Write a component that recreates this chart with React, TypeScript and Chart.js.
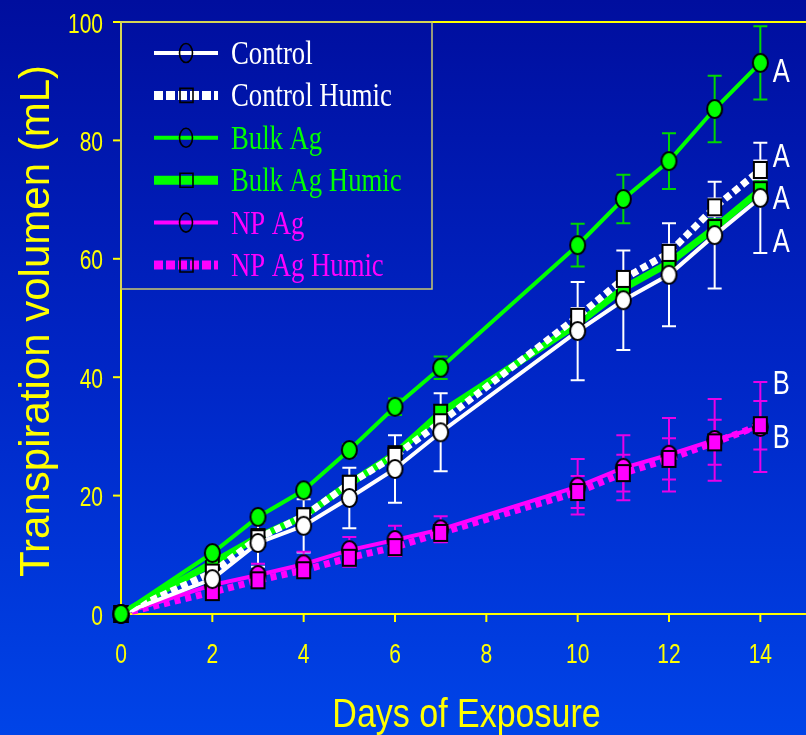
import React, { useEffect, useRef } from "react";
import { Chart, registerables } from "chart.js";

Chart.register(...registerables);

// ---------- data ----------
const days = [0, 2, 3, 4, 5, 6, 7, 10, 11, 12, 13, 14];
const control = [0, 5.9, 12.0, 14.9, 19.6, 24.5, 30.7, 47.8, 53.0, 57.3, 64.0, 70.3];
const controlErr = [0, 1.9, 4.0, 4.5, 5.1, 5.7, 6.6, 8.3, 8.4, 8.7, 9.0, 9.3];
const controlHumic = [0, 7.0, 12.8, 16.5, 22.0, 26.7, 32.4, 50.2, 56.6, 61.0, 68.7, 75.0];
const controlHumicErr = [0, 0.8, 1.0, 1.2, 1.0, 1.5, 1.5, 1.5, 1.3, 1.4, 1.5, 1.6];
const bulkAg = [0, 10.3, 16.4, 20.9, 27.7, 35.0, 41.6, 62.3, 70.1, 76.5, 85.3, 93.1];
const bulkAgErr = [0, 0.6, 1.0, 0.8, 1.0, 1.4, 1.9, 3.6, 4.1, 4.7, 5.6, 6.2];
const bulkAgHumic = [0, 8.6, 13.0, 16.5, 22.0, 27.0, 34.0, 49.0, 55.0, 59.3, 65.2, 71.6];
const bulkAgHumicErr = [0, 0.8, 0.8, 1.0, 1.0, 1.0, 1.0, 1.2, 1.2, 1.5, 1.5, 1.5];
const npAg = [0, 4.9, 6.6, 8.4, 10.8, 12.5, 14.3, 21.5, 24.7, 26.9, 29.4, 31.6];
const npAgErr = [0, 1.0, 1.9, 2.1, 2.2, 2.4, 2.2, 4.7, 5.5, 6.2, 6.9, 7.6];
const npAgHumic = [0, 3.7, 5.7, 7.4, 9.5, 11.3, 13.7, 20.6, 23.8, 26.2, 29.0, 31.9];
const npAgHumicErr = [0, 0.8, 1.2, 1.3, 1.5, 1.5, 1.5, 2.7, 3.1, 3.5, 3.8, 4.1];

const seriesNames = ["Control", "Control Humic", "Bulk Ag", "Bulk Ag Humic", "NP Ag", "NP Ag Humic"];
const xTicks = [0, 2, 4, 6, 8, 10, 12, 14];
const yTicks = [0, 20, 40, 60, 80, 100];
const letterLabels = ["A", "A", "A", "A", "B", "B"];
const letterValues = [91.9, 77.5, 70.4, 63.2, 39.2, 30.1];
const xTitle = "Days of Exposure";
const yTitle = "Transpiration volumen (mL)";

// ---------- styles ----------
const WHITE = "#ffffff";
const GREEN = "#00ff00";
const MAGENTA = "#ff00ff";
const YELLOW = "#ffff00";
const SANS = "'Liberation Sans', Arial, sans-serif";
const SERIF = "'Liberation Serif', 'Times New Roman', serif";

function makeMarker(shape: "circle" | "square", fill: string): HTMLCanvasElement {
  const c = document.createElement("canvas");
  const w = shape === "circle" ? 15 : 13;
  const h = shape === "circle" ? 18 : 16;
  c.width = w + 4;
  c.height = h + 4;
  const ctx = c.getContext("2d")!;
  ctx.fillStyle = fill;
  ctx.strokeStyle = "#000";
  ctx.lineWidth = 2;
  ctx.beginPath();
  if (shape === "circle") {
    ctx.ellipse(c.width / 2, c.height / 2, w / 2, h / 2, 0, 0, Math.PI * 2);
  } else {
    ctx.rect(2, 2, w, h);
  }
  ctx.fill();
  ctx.stroke();
  return c;
}

function stretchedText(
  ctx: CanvasRenderingContext2D,
  text: string,
  x: number,
  y: number,
  font: string,
  color: string,
  align: CanvasTextAlign,
  sy: number
) {
  ctx.save();
  ctx.translate(x, y);
  ctx.scale(1, sy);
  ctx.font = font;
  ctx.fillStyle = color;
  ctx.textAlign = align;
  ctx.textBaseline = "alphabetic";
  ctx.fillText(text, 0, 0);
  ctx.restore();
}

export default function App() {
  const ref = useRef<HTMLCanvasElement>(null);

  useEffect(() => {
    document.body.style.margin = "0";
    const canvas = ref.current!;

    const mk = (vals: number[]) => days.map((d, i) => ({ x: d, y: vals[i] }));

    const errorSets = [
      { vals: control, errs: controlErr, color: "#ffffff" },
      { vals: controlHumic, errs: controlHumicErr, color: "#e6e6ff" },
      { vals: bulkAg, errs: bulkAgErr, color: "#00d800" },
      { vals: bulkAgHumic, errs: bulkAgHumicErr, color: "#00d800" },
      { vals: npAg, errs: npAgErr, color: "#e800e8" },
      { vals: npAgHumic, errs: npAgHumicErr, color: "#e800e8" },
    ];

    const legendStyles = [
      { color: WHITE, width: 4, dash: [] as number[], marker: "circle" },
      { color: WHITE, width: 9, dash: [9, 3], marker: "square" },
      { color: GREEN, width: 4, dash: [], marker: "circle" },
      { color: GREEN, width: 9, dash: [], marker: "square" },
      { color: MAGENTA, width: 4, dash: [], marker: "circle" },
      { color: MAGENTA, width: 9, dash: [9, 3], marker: "square" },
    ];

    const bgPlugin = {
      id: "bg",
      beforeDraw(chart: any) {
        const ctx = chart.ctx as CanvasRenderingContext2D;
        const g = ctx.createLinearGradient(0, 0, 0, chart.height);
        g.addColorStop(0, "#000e9e");
        g.addColorStop(0.5, "#0026c6");
        g.addColorStop(1, "#0044e8");
        ctx.save();
        ctx.fillStyle = g;
        ctx.fillRect(0, 0, chart.width, chart.height);
        ctx.restore();
      },
    };

    const axesPlugin = {
      id: "axes",
      beforeDatasetsDraw(chart: any) {
        const ctx = chart.ctx as CanvasRenderingContext2D;
        const xs = chart.scales.x;
        const ys = chart.scales.y;
        const area = chart.chartArea;
        ctx.save();
        ctx.strokeStyle = YELLOW;
        ctx.lineWidth = 2;
        // y axis
        ctx.beginPath();
        ctx.moveTo(area.left, area.top);
        ctx.lineTo(area.left, area.bottom);
        ctx.stroke();
        // x axis
        ctx.beginPath();
        ctx.moveTo(area.left, area.bottom);
        ctx.lineTo(chart.width, area.bottom);
        ctx.stroke();
        // top frame line
        ctx.beginPath();
        ctx.moveTo(area.left - 8, area.top);
        ctx.lineTo(chart.width, area.top);
        ctx.stroke();
        // y ticks
        yTicks.forEach((v) => {
          const y = ys.getPixelForValue(v);
          ctx.beginPath();
          ctx.moveTo(area.left - 8, y);
          ctx.lineTo(area.left, y);
          ctx.stroke();
          stretchedText(ctx, String(v), area.left - 18, y + 10.5, `21px ${SANS}`, YELLOW, "right", 1.3);
        });
        // x ticks
        xTicks.forEach((v) => {
          const x = xs.getPixelForValue(v);
          ctx.beginPath();
          ctx.moveTo(x, area.bottom);
          ctx.lineTo(x, area.bottom + 8);
          ctx.stroke();
          stretchedText(ctx, String(v), x, area.bottom + 49, `21px ${SANS}`, YELLOW, "center", 1.3);
        });
        // titles
        stretchedText(ctx, xTitle, 466.5, 727, `34px ${SANS}`, YELLOW, "center", 1.2);
        ctx.save();
        ctx.translate(49, (area.top + area.bottom) / 2 + 3);
        ctx.rotate(-Math.PI / 2);
        ctx.font = `42px ${SANS}`;
        ctx.fillStyle = YELLOW;
        ctx.textAlign = "center";
        ctx.textBaseline = "alphabetic";
        ctx.fillText(yTitle, 0, 0);
        ctx.restore();

        // error bars
        ctx.lineWidth = 2;
        errorSets.forEach((s) => {
          ctx.strokeStyle = s.color;
          days.forEach((d, i) => {
            const e = s.errs[i];
            if (!e) return;
            const x = xs.getPixelForValue(d);
            const y1 = ys.getPixelForValue(s.vals[i] + e);
            const y2 = ys.getPixelForValue(s.vals[i] - e);
            ctx.beginPath();
            ctx.moveTo(x, y1);
            ctx.lineTo(x, y2);
            ctx.moveTo(x - 7, y1);
            ctx.lineTo(x + 7, y1);
            ctx.moveTo(x - 7, y2);
            ctx.lineTo(x + 7, y2);
            ctx.stroke();
          });
        });
        ctx.restore();
      },
      afterDraw(chart: any) {
        const ctx = chart.ctx as CanvasRenderingContext2D;
        const xs = chart.scales.x;
        const ys = chart.scales.y;
        const area = chart.chartArea;
        ctx.save();
        // legend box
        ctx.strokeStyle = "#c8c870";
        ctx.lineWidth = 1.5;
        ctx.strokeRect(area.left, area.top, 432 - area.left, 289 - area.top);
        const textColors = [WHITE, WHITE, GREEN, GREEN, MAGENTA, MAGENTA];
        seriesNames.forEach((name, i) => {
          const cy = 53 + i * 42.4;
          const st = legendStyles[i];
          ctx.save();
          ctx.strokeStyle = st.color;
          ctx.lineWidth = st.width;
          ctx.lineCap = "butt";
          ctx.setLineDash(st.dash);
          ctx.beginPath();
          ctx.moveTo(154, cy);
          ctx.lineTo(218, cy);
          ctx.stroke();
          ctx.setLineDash([]);
          ctx.strokeStyle = "#000";
          ctx.lineWidth = 1.6;
          ctx.beginPath();
          if (st.marker === "circle") ctx.ellipse(186, cy, 6.5, 9.5, 0, 0, Math.PI * 2);
          else ctx.rect(180, cy - 7, 13, 14);
          ctx.stroke();
          ctx.restore();
          stretchedText(ctx, name, 231, cy + 11, `26.7px ${SERIF}`, textColors[i], "left", 1.25);
        });
        // significance letters
        letterLabels.forEach((l, i) => {
          const x = xs.getPixelForValue(14) + 21;
          const y = ys.getPixelForValue(letterValues[i]);
          stretchedText(ctx, l, x, y + 12, `25.5px ${SANS}`, WHITE, "center", 1.3);
        });
        ctx.restore();
      },
    };

    const ds = (
      label: string,
      vals: number[],
      color: string,
      width: number,
      dash: number[],
      marker: HTMLCanvasElement,
      order: number
    ) => ({
      label,
      data: mk(vals),
      borderColor: color,
      backgroundColor: color,
      borderWidth: width,
      borderDash: dash,
      borderCapStyle: "butt",
      pointStyle: marker,
      pointRadius: 8,
      tension: 0,
      clip: false,
      order,
    });

    const chart = new Chart(canvas, {
      type: "line",
      data: {
        datasets: [
          ds(seriesNames[0], control, WHITE, 4, [], makeMarker("circle", WHITE), 1),
          ds(seriesNames[1], controlHumic, WHITE, 7, [7, 4], makeMarker("square", WHITE), 2),
          ds(seriesNames[2], bulkAg, GREEN, 4, [], makeMarker("circle", GREEN), 0),
          ds(seriesNames[3], bulkAgHumic, GREEN, 7, [], makeMarker("square", GREEN), 3),
          ds(seriesNames[4], npAg, MAGENTA, 4, [], makeMarker("circle", MAGENTA), 5),
          ds(seriesNames[5], npAgHumic, MAGENTA, 7, [6, 5], makeMarker("square", MAGENTA), 4),
        ] as any,
      },
      options: {
        responsive: false,
        animation: false,
        events: [],
        layout: { autoPadding: false, padding: { top: 22, left: 0, right: 0, bottom: 0 } },
        plugins: { legend: { display: false }, tooltip: { enabled: false } },
        scales: {
          x: {
            type: "linear",
            min: 0,
            max: 15,
            ticks: { display: false },
            grid: { display: false },
            border: { display: false },
            afterFit: (s: any) => {
              s.height = 121;
            },
          },
          y: {
            type: "linear",
            min: 0,
            max: 100,
            ticks: { display: false },
            grid: { display: false },
            border: { display: false },
            afterFit: (s: any) => {
              s.width = 121;
            },
          },
        },
      } as any,
      plugins: [bgPlugin, axesPlugin],
    });

    return () => chart.destroy();
  }, []);

  return (
    <div style={{ width: 806, height: 735 }}>
      <canvas ref={ref} width={806} height={735} style={{ display: "block" }} />
    </div>
  );
}
